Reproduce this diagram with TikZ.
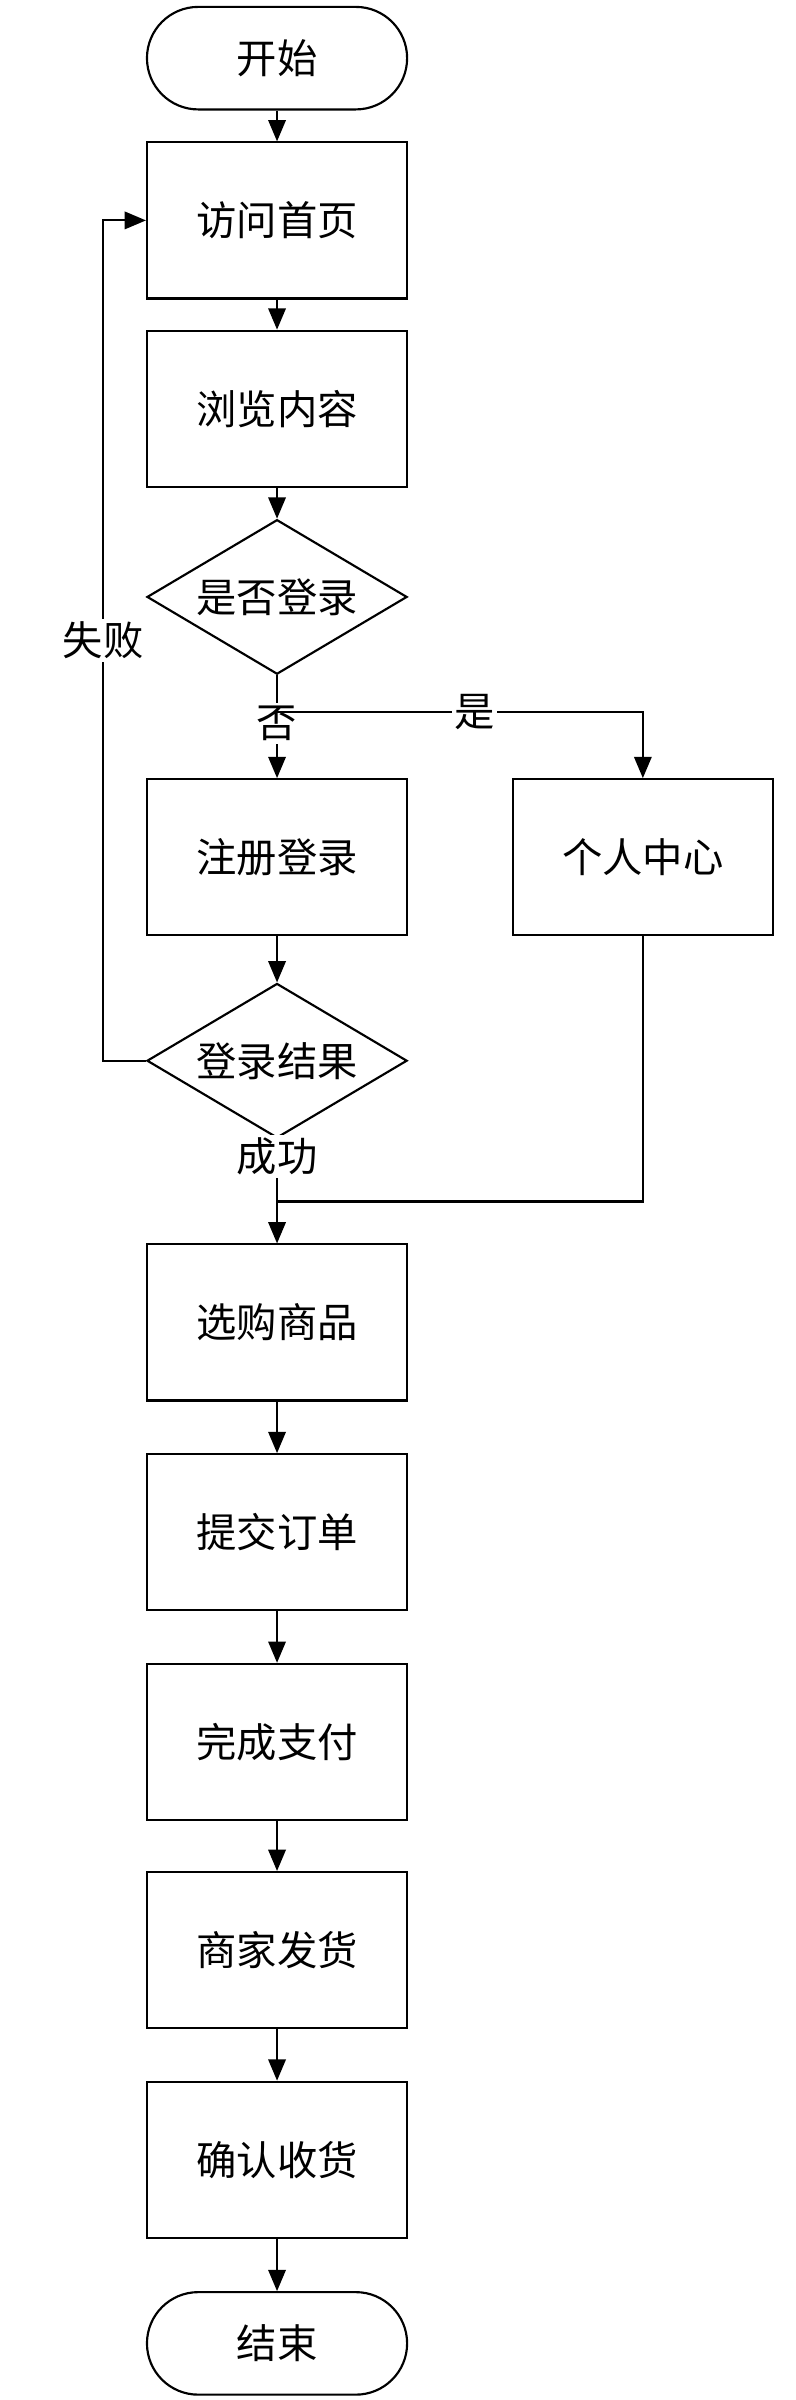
\documentclass[tikz,border=0pt]{standalone}
\usepackage{fontspec}
\setmainfont{Noto Sans CJK SC}
\usetikzlibrary{shapes.geometric, arrows, positioning, calc}

\begin{document}
\begin{tikzpicture}[
        x=0.02cm, y=-0.02cm,
        every node/.style={font=\fontsize{15}{18}\selectfont},
        term/.style={rectangle, draw, thick, rounded corners=0.67cm, minimum width=3.4cm, minimum height=1.34cm, align=center},
        box/.style={rectangle, draw, thick, minimum width=3.4cm, minimum height=2.04cm, align=center},
        decision/.style={diamond, draw, thick, minimum width=3.4cm, minimum height=2.02cm, inner sep=0pt, aspect=1.7},
        arrow/.style={-triangle 45, thick}
    ]
        \useasboundingbox (0,0) rectangle (520,1568);
        \node[term] (start) at (181,38) {开始};
        \node[box] (visit) at (181,144) {访问首页};
        \node[box] (browse) at (181,267) {浏览内容};
        \node[decision] (islogin) at (181,390) {是否登录};
        \node[box] (register) at (181,560) {注册登录};
        \node[box] (center) at (420,560) {个人中心};
        \node[decision] (result) at (181,693) {登录结果};
        \node[box] (shop) at (181,864) {选购商品};
        \node[box] (order) at (181,1001) {提交订单};
        \node[box] (pay) at (181,1138) {完成支付};
        \node[box] (ship) at (181,1274) {商家发货};
        \node[box] (receive) at (181,1411) {确认收货};
        \node[term] (stop) at (181,1531) {结束};
        \coordinate (fork) at (181,465);
        \coordinate (merge) at (181,785);

        \draw[arrow] (start) -- (visit);
        \draw[arrow] (visit) -- (browse);
        \draw[arrow] (browse) -- (islogin);
        \draw[arrow] (islogin) -- node[pos=0.47, fill=white, inner sep=1pt] {否} (register);
        \draw[arrow] (fork) -| node[pos=0.27, fill=white, inner sep=1pt] {是} (center);
        \draw[arrow] (register) -- (result);
        \draw[arrow] (result.west) -- ++(-28,0) |- node[pos=0.25, fill=white, inner sep=1pt] {失败} (visit.west);
        \draw[thick] (center) |- (merge);
        \draw[arrow] (result) -- node[pos=0.17, fill=white, inner sep=1pt] {成功} (shop);
        \draw[arrow] (shop) -- (order);
        \draw[arrow] (order) -- (pay);
        \draw[arrow] (pay) -- (ship);
        \draw[arrow] (ship) -- (receive);
        \draw[arrow] (receive) -- (stop);
    \end{tikzpicture}
\end{document}
